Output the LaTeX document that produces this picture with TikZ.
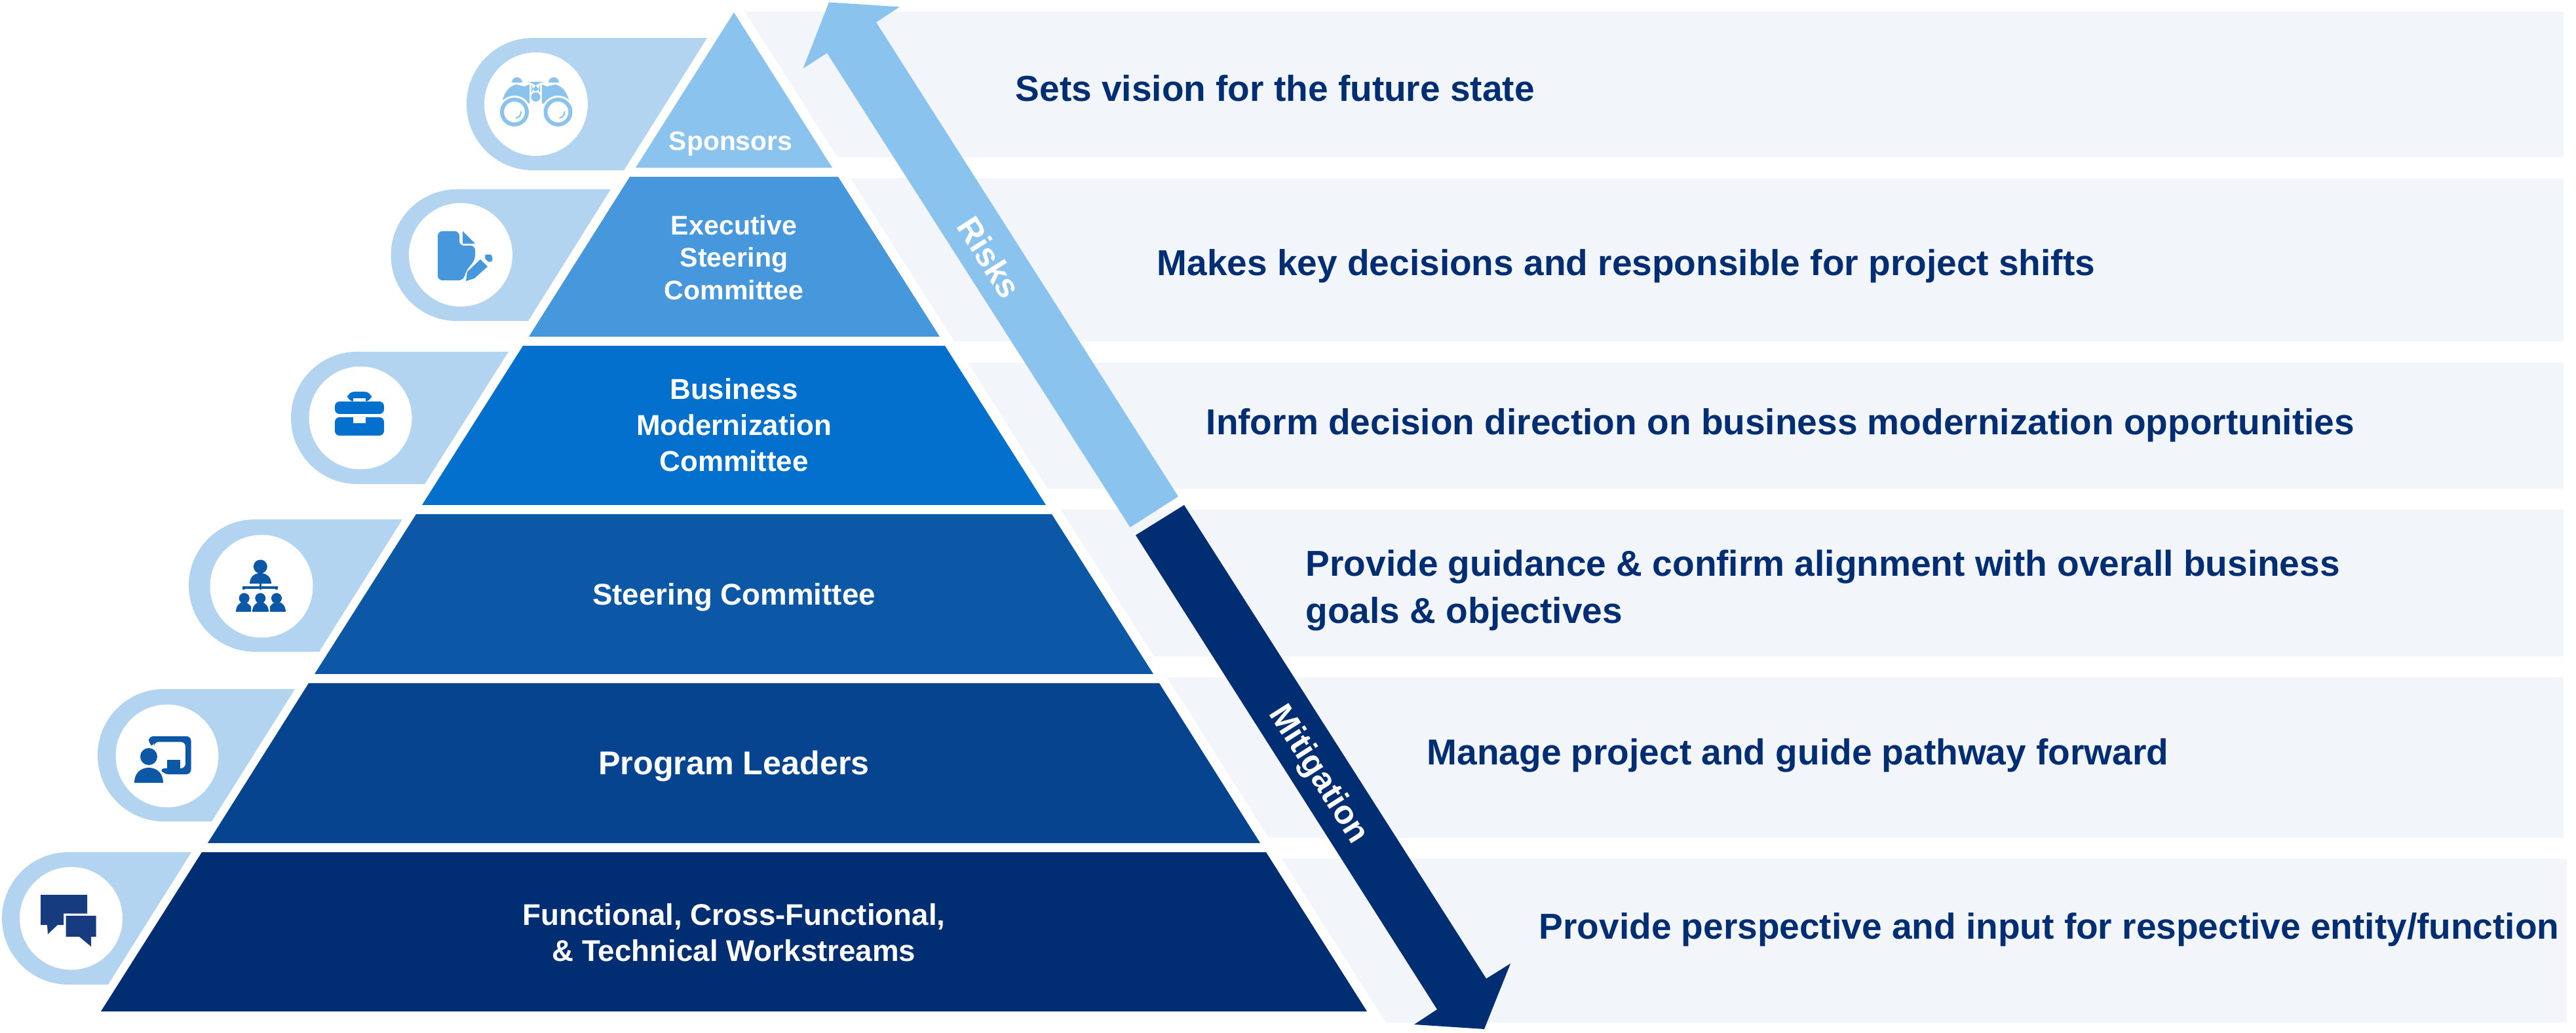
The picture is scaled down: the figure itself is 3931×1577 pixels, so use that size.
\documentclass[tikz,border=0pt]{standalone}
\usepackage{fontspec}
\setmainfont{Liberation Sans}
\definecolor{navyblue}{HTML}{012D72}
\definecolor{programblue}{HTML}{06448F}
\definecolor{steerblue}{HTML}{0C58A6}
\definecolor{businessblue}{HTML}{0270CC}
\definecolor{execblue}{HTML}{4797DC}
\definecolor{skyblue}{HTML}{8BC3EF}
\definecolor{pillblue}{HTML}{B3D4F1}
\definecolor{bandgray}{HTML}{F2F5FA}
\definecolor{chatblue}{HTML}{163C7F}
\tikzset{
  band/.style={fill=bandgray},
  pill/.style={fill=pillblue},
  disc/.style={fill=white},
  layertext/.style n args={2}{text=white, align=center, inner sep=0pt, font=\fontsize{#1}{#2}\selectfont\bfseries},
  desctext/.style={text=navyblue, align=left, inner sep=0pt, anchor=base west, font=\fontsize{15.65}{20.5}\selectfont\bfseries},
  arrowtext/.style={text=white, inner sep=0pt, rotate=-57.5, font=\fontsize{14.4}{16}\selectfont\bfseries},
}
\begin{document}
\begin{tikzpicture}[x=0.01cm, y=-0.01cm]
  \useasboundingbox (0,0) rectangle (3931,1577);
  % right bands
  \fill[band] (1137,18) -- (3912,18) -- (3912,240) -- (1278,240) -- cycle;
  \fill[band] (1298,272) -- (3912,272) -- (3912,521) -- (1456,521) -- cycle;
  \fill[band] (1477,553.5) -- (3912,553.5) -- (3912,746) -- (1598.5,746) -- cycle;
  \fill[band] (1619,778) -- (3912,778) -- (3912,1002) -- (1761,1002) -- cycle;
  \fill[band] (1781,1034) -- (3912,1034) -- (3912,1279) -- (1936,1279) -- cycle;
  \fill[band] (1956,1311) -- (3917,1311) -- (3917,1561) -- (2115,1561) -- cycle;
  % arrows
  \fill[skyblue] (1724.5,805) -- (1262,81) -- (1225.5,104.6) -- (1265,3.5) -- (1373,10.5) -- (1337,34) -- (1798,758) -- cycle;
  \fill[navyblue] (1807,771) -- (2268,1494) -- (2305,1471) -- (2265,1571) -- (2158,1564) -- (2193,1541) -- (1733,817) -- cycle;
  \node[arrowtext] (risks) at (1510,393) {Risks};
  \node[arrowtext] (mitigation) at (2011,1183) {Mitigation};
  % pyramid
  \fill[skyblue] (1120,19) -- (1270,256) -- (970,256) -- cycle;
  \fill[execblue] (961,270) -- (1279,270) -- (1434,514) -- (807,514) -- cycle;
  \fill[businessblue] (798,528) -- (1442,528) -- (1596,771) -- (644,771) -- cycle;
  \fill[steerblue] (635,785) -- (1605,785) -- (1760,1029) -- (480,1029) -- cycle;
  \fill[programblue] (471,1043) -- (1769,1043) -- (1923,1287) -- (317,1287) -- cycle;
  \fill[navyblue] (308,1301) -- (1932,1301) -- (2086,1544) -- (154,1544) -- cycle;
  \node[layertext={11.6}{14.1}] (sponsors) at (1115,220) {Sponsors};
  \node[layertext={11.7}{14.1}] (executive) at (1120,393) {Executive\\Steering\\Committee};
  \node[layertext={12.5}{15.6}] (business) at (1120,649) {Business\\Modernization\\Committee};
  \node[layertext={13}{15}] (steering) at (1120,912) {Steering Committee};
  \node[layertext={14.3}{16}] (program) at (1120,1170) {Program Leaders};
  \node[layertext={13}{15.6}] (workstreams) at (1120,1424) {Functional, Cross-Functional,\\\& Technical Workstreams};
  % pills
  \fill[pill] (1079,58) -- (813,58) arc[start angle=270, end angle=90, radius=101] -- (952,260) -- cycle;
  \fill[pill] (932,289) -- (697,289) arc[start angle=270, end angle=90, radius=100.5] -- (806,490) -- cycle;
  \fill[pill] (776,537) -- (545,537) arc[start angle=270, end angle=90, radius=101] -- (648,739) -- cycle;
  \fill[pill] (614,793) -- (389,793) arc[start angle=270, end angle=90, radius=101] -- (487,995) -- cycle;
  \fill[pill] (450,1052) -- (250,1052) arc[start angle=270, end angle=90, radius=101] -- (323,1254) -- cycle;
  \fill[pill] (292,1301) -- (104,1301) arc[start angle=270, end angle=90, radius=101] -- (165,1503) -- cycle;
  \fill[disc] (818,159) circle[radius=79];
  \fill[disc] (703,389) circle[radius=79];
  \fill[disc] (550,638) circle[radius=78.5];
  \fill[disc] (399,895) circle[radius=78.5];
  \fill[disc] (255,1154) circle[radius=78.5];
  \fill[disc] (108.5,1402) circle[radius=78.5];
  % binoculars
  \fill[skyblue] (767,152) .. controls (771,140) and (776,132) .. (788,129) -- (800,132) -- (808,129) -- (808,158) -- (790,160) -- cycle;
  \fill[skyblue] (868,152) .. controls (864,140) and (859,132) .. (847,129) -- (835,132) -- (827,129) -- (827,158) -- (845,160) -- cycle;
  \fill[skyblue] (781,126) arc[start angle=180, end angle=360, radius=8] -- cycle;
  \fill[skyblue] (837,126) arc[start angle=180, end angle=360, radius=8] -- cycle;
  \fill[skyblue,rounded corners=6pt] (811,125) rectangle (824,147);
  \fill[disc] (785,171) circle[radius=25];
  \fill[disc] (851.5,171) circle[radius=25];
  \fill[disc] (817.5,148) circle[radius=9];
  \fill[skyblue] (817.5,148) circle[radius=7];
  \fill[skyblue, even odd rule] (785,171) circle[radius=22] (785,171) circle[radius=16];
  \fill[skyblue, even odd rule] (851.5,171) circle[radius=22] (851.5,171) circle[radius=16];
  \draw[skyblue, line width=0.6pt] (795,170) .. controls (795,176) and (792,180) .. (787,180);
  \draw[skyblue, line width=0.6pt] (861.5,170) .. controls (861.5,176) and (858.5,180) .. (853.5,180);
  % document and pencil
  \fill[execblue, rounded corners=2pt] (668,353) -- (701,353) -- (701,375) -- (725,375) -- (725,397) -- (712,412) -- (707,428) -- (668,428) -- cycle;
  \fill[execblue] (706,353) -- (725,372) -- (706,372) -- cycle;
  \fill[execblue] (711,429) -- (713,415) -- (733,396) -- (744,407) -- (724,425) -- cycle;
  \fill[execblue, rounded corners=2pt] (737,392) -- (745,386) -- (754,393) -- (748,403) -- cycle;
  % briefcase
  \fill[businessblue, rounded corners=2pt] (511,613) rectangle (586,632);
  \fill[businessblue, rounded corners=2pt] (511,637) rectangle (586,665);
  \fill[businessblue, rounded corners=3pt] (530,613) -- (530,598) -- (567,598) -- (567,613) -- cycle;
  \fill[disc] (539,608) rectangle (558,613);
  \fill[disc] (539,637) rectangle (558,646);
  % people tree
  \fill[steerblue] (397.3,865) circle[radius=10.5];
  \fill[steerblue] (381,891) .. controls (381,881) and (388,875) .. (397.3,875) .. controls (407,875) and (414,881) .. (414,891) -- cycle;
  \draw[steerblue, line width=0.9pt] (372,900) -- (372,897) -- (422,897) -- (422,900) (397.3,891) -- (397.3,900);
  \fill[steerblue] (372.7,913.3) circle[radius=8];
  \fill[steerblue] (397.3,913.3) circle[radius=8];
  \fill[steerblue] (422,913.3) circle[radius=8];
  \fill[steerblue] (360,934) .. controls (360,926) and (365,919) .. (372,919) .. controls (376,919) and (380,922) .. (383,926) -- (383,934) -- cycle;
  \fill[steerblue] (385,934) .. controls (385,926) and (390,919) .. (397.3,919) .. controls (405,919) and (410,926) .. (410,934) -- cycle;
  \fill[steerblue] (412,926) .. controls (415,922) and (418,919) .. (424,919) .. controls (431,919) and (436,926) .. (436,934) -- (412,934) -- cycle;
  % presenter and board
  \fill[steerblue, rounded corners=2pt, even odd rule] (227,1136) -- (227,1124) -- (291.5,1124) -- (291.5,1182) -- (250,1182) -- (244,1173) -- (283,1173) -- (283,1132.5) -- (235,1132.5) -- (235,1140) -- cycle;
  \fill[steerblue] (255,1160) rectangle (275,1173);
  \fill[steerblue] (227,1155) circle[radius=13];
  \fill[steerblue] (205,1195) .. controls (205,1181) and (214,1172) .. (227,1172) .. controls (240,1172) and (249,1181) .. (249,1195) -- cycle;
  % speech bubbles
  \fill[chatblue] (62,1366) -- (133,1366) -- (133,1394.5) -- (97,1394.5) -- (97,1412) -- (88,1412) -- (73,1426) -- (72,1412) -- (62,1412) -- cycle;
  \fill[chatblue] (100.5,1398) -- (146.5,1398) -- (146.5,1430) -- (139,1430) -- (139,1445) -- (121,1430) -- (100.5,1430) -- cycle;
  % descriptions
  \node[desctext] (vision) at (1549,155) {Sets vision for the future state};
  \node[desctext] (decisions) at (1765,421) {Makes key decisions and responsible for project shifts};
  \node[desctext] (inform) at (1840,664) {Inform decision direction on business modernization opportunities};
  \node[desctext] (guidance) at (1992,952) {Provide guidance \& confirm alignment with overall business\\goals \& objectives};
  \node[desctext] (manage) at (2177,1167) {Manage project and guide pathway forward};
  \node[desctext] (perspective) at (2348,1433) {Provide perspective and input for respective entity/function};
\end{tikzpicture}
\end{document}
